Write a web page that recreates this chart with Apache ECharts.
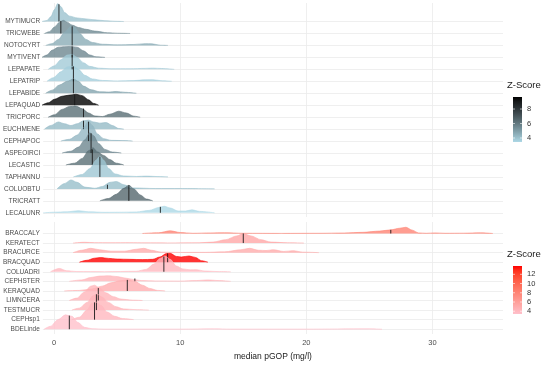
<!DOCTYPE html>
<html><head><meta charset="utf-8">
<script src="https://cdn.jsdelivr.net/npm/echarts@6/dist/echarts.min.js"></script>
<style>html,body{margin:0;padding:0;background:#fff}#c{width:550px;height:366px}</style>
</head><body><div id="c"></div>
<script>
// ---------- top panel (blue scale), listed top to bottom ----------
const blueNames = ['MYTIMUCR','TRICWEBE','NOTOCYRT','MYTIVENT','LEPAPATE','LEPATRIP','LEPABIDE','LEPAQUAD','TRICPORC','EUCHMENE','CEPHAPOC','ASPEOIRCI','LECASTIC','TAPHANNU','COLUOBTU','TRICRATT','LECALUNR'];
const blueZ = [4.0, 5.5, 4.6, 5.6, 3.8, 3.7, 4.8, 9.66, 6.3, 4.2, 4.3, 5.6, 6.3, 3.9, 4.1, 6.5, 3.45];
const blueMedian = [0.35, 0.5, 1.4, 1.4, 1.4, 1.5, 1.5, 1.6, 2.3, 2.3, 2.7, 2.9, 3.0, 3.6, 4.2, 5.9, 8.4];
const blueMedianH = [1.45, 1.05, 1.6, 0.92, 1.25, 1.25, 1.2, 0.9, 0.72, 0.7, 1.62, 1.65, 1.3, 1.7, 0.35, 1.3, 0.5];

const d_MYTIMUCR = [[-1.0,0],[-0.6,0.08],[-0.3,0.4],[0,1.0],[0.25,1.5],[0.5,1.25],[0.8,0.75],[1.2,0.45],[1.8,0.3],[2.5,0.22],[3.2,0.14],[4,0.07],[4.8,0.02],[5.5,0]];
const d_TRICWEBE = [[-0.8,0],[-0.4,0.15],[0,0.55],[0.4,0.95],[0.7,1.1],[1.0,0.95],[1.4,0.7],[1.9,0.5],[2.5,0.35],[3.2,0.2],[4.2,0.06],[5,0.02],[6,0]];
const d_NOTOCYRT = [[-0.7,0],[-0.2,0.15],[0.3,0.5],[0.8,1.1],[1.3,1.6],[1.6,1.5],[2.0,1.0],[2.5,0.5],[3,0.25],[3.8,0.1],[5,0.05],[6.3,0.08],[7.2,0.15],[7.7,0.14],[8.4,0.02],[9,0]];
const d_MYTIVENT = [[-1.0,0],[-0.6,0.2],[-0.2,0.6],[0.3,0.85],[0.8,0.9],[1.3,0.92],[1.8,0.85],[2.3,0.55],[2.8,0.2],[3.3,0.05],[4,0]];
const d_LEPAPATE = [[-0.5,0],[0,0.3],[0.5,0.8],[1.0,1.2],[1.4,1.25],[1.8,1.0],[2.3,0.55],[2.8,0.25],[3.5,0.1],[4.5,0.05],[6,0.05],[7.2,0.08],[7.8,0.1],[8.5,0.07],[9.5,0]];
const d_LEPATRIP = [[-0.6,0],[-0.1,0.3],[0.5,0.8],[1.0,1.2],[1.5,1.25],[1.9,1.0],[2.4,0.5],[3,0.2],[3.8,0.07],[5,0.03],[6.3,0.06],[7.2,0.12],[7.8,0.13],[8.6,0.04],[9.3,0]];
const d_LEPABIDE = [[-0.7,0],[-0.2,0.25],[0.4,0.7],[1.0,1.0],[1.5,1.2],[1.9,1.0],[2.3,0.6],[2.9,0.3],[3.6,0.12],[4.3,0.1],[4.9,0.15],[5.6,0.08],[6.5,0]];
const d_LEPAQUAD = [[-1.0,0],[-0.5,0.2],[0,0.5],[0.6,0.75],[1.2,0.85],[1.7,0.92],[2.2,0.8],[2.7,0.45],[3.1,0.15],[3.5,0]];
const d_TRICPORC = [[-0.5,0],[0,0.2],[0.6,0.65],[1.2,0.9],[1.7,0.93],[2.2,0.7],[2.7,0.35],[3.2,0.1],[3.8,0.05],[4.4,0.25],[5.1,0.5],[5.7,0.35],[6.3,0.08],[6.8,0]];
const d_EUCHMENE = [[-0.8,0],[-0.3,0.3],[0.3,0.6],[0.8,0.45],[1.3,0.3],[1.8,0.45],[2.3,0.7],[2.7,0.75],[3.1,0.6],[3.6,0.5],[4.1,0.55],[4.6,0.3],[5.1,0.05],[5.5,0]];
const d_CEPHAPOC = [[0.5,0],[1.2,0.15],[1.8,0.5],[2.3,1.1],[2.7,1.65],[3.0,1.3],[3.4,0.6],[3.9,0.2],[4.5,0.06],[5.6,0.04],[6.2,0]];
const d_ASPEOIRCI = [[0.6,0],[1.3,0.15],[1.9,0.5],[2.4,1.1],[2.8,1.7],[3.1,1.45],[3.5,0.8],[4.0,0.3],[4.6,0.08],[5.3,0]];
const d_LECASTIC = [[0.9,0],[1.6,0.15],[2.2,0.55],[2.7,1.2],[3.05,1.45],[3.4,1.1],[3.9,0.8],[4.4,0.45],[4.9,0.15],[5.5,0]];
const d_TAPHANNU = [[1.5,0],[2.2,0.2],[2.8,0.7],[3.3,1.4],[3.6,1.75],[3.9,1.4],[4.3,0.7],[4.8,0.25],[5.5,0.08],[6.5,0.04],[7.3,0.07],[8.2,0.03],[9,0]];
const d_COLUOBTU = [[0.2,0],[0.8,0.45],[1.3,0.75],[1.8,0.55],[2.4,0.15],[3.2,0.05],[3.8,0.2],[4.4,0.55],[4.9,0.62],[5.5,0.35],[6.2,0.08],[8,0.03],[10,0.03],[12.7,0]];
const d_TRICRATT = [[3.6,0],[4.3,0.2],[4.9,0.55],[5.5,1.05],[5.9,1.3],[6.3,1.0],[6.8,0.5],[7.3,0.15],[7.8,0]];
const d_LECALUNR = [[-0.9,0],[0,0.05],[1.0,0.08],[1.9,0.18],[2.7,0.08],[4,0.04],[5.5,0.05],[6.5,0.07],[7.5,0.2],[8.3,0.45],[8.7,0.55],[9.2,0.4],[9.8,0.15],[10.4,0.15],[10.9,0.25],[11.5,0.12],[12.7,0]];

// ---------- bottom panel (red scale), listed top to bottom ----------
const redNames = ['BRACCALY','KERATECT','BRACURCE','BRACQUAD','COLUADRI','CEPHSTER','KERAQUAD','LIMNCERA','TESTMUCR','CEPHsp1','BDELinde'];
const redZ = [8.0, 5.3, 5.0, 13.8, 4.0, 4.3, 4.8, 4.3, 4.3, 4.0, 3.4];
const redMedian = [26.7, 15.0, null, 9.0, 8.7, 6.4, 5.8, 3.5, 3.35, 3.2, 1.2];
const redMedianH = [0.38, 1.0, null, 0.92, 1.6, 0.3, 1.15, 1.3, 1.65, 1.8, 1.42];

const d_BRACCALY = [[7.0,0],[8.3,0.08],[9.2,0.28],[10,0.1],[11,0.02],[12.4,0.06],[13.5,0.08],[15,0.02],[18,0.01],[21,0.02],[23,0.05],[24.5,0.12],[25.8,0.25],[26.7,0.38],[27.4,0.55],[27.9,0.65],[28.4,0.35],[28.9,0.06],[29.5,0.02],[30.2,0.06],[31,0.02],[32.5,0.03],[33.8,0.07],[34.8,0]];
const d_KERATECT = [[1.5,0],[2.4,0.08],[3.2,0.04],[4.5,0.03],[6,0.04],[7.2,0.02],[9,0.01],[11.5,0.03],[12.6,0.1],[13.6,0.35],[14.5,0.75],[15.0,1.0],[15.6,0.75],[16.4,0.35],[17.2,0.1],[18.5,0.03],[19.8,0]];
const d_BRACURCE = [[1.5,0],[2.2,0.25],[2.9,0.45],[3.6,0.3],[4.5,0.15],[5.6,0.15],[6.5,0.35],[7.1,0.45],[7.7,0.25],[8.5,0.05],[10,0.02],[12,0.03],[13.5,0.08],[14.8,0.3],[15.5,0.45],[16.2,0.25],[16.8,0.22],[17.4,0.3],[18.2,0.12],[19,0.2],[19.7,0.05],[21,0]];
const d_BRACQUAD = [[2.0,0],[2.6,0.2],[3.2,0.42],[3.7,0.48],[4.3,0.4],[5,0.33],[6,0.3],[7,0.27],[7.8,0.3],[8.4,0.55],[8.9,0.9],[9.2,0.93],[9.7,0.6],[10.1,0.55],[10.7,0.65],[11.2,0.5],[11.7,0.15],[12.2,0]];
const d_COLUADRI = [[-0.3,0],[0.4,0.35],[1.0,0.1],[1.8,0.02],[4,0.01],[6.5,0.05],[7.3,0.25],[7.9,0.8],[8.4,1.4],[8.8,1.65],[9.2,1.3],[9.7,0.6],[10.2,0.3],[10.8,0.2],[11.3,0.22],[11.9,0.08],[13,0.02],[14,0]];
const d_CEPHSTER = [[1.2,0],[2.2,0.15],[2.9,0.4],[3.6,0.55],[4.3,0.58],[5,0.5],[5.6,0.35],[6.3,0.2],[6.9,0.08],[8,0.04],[10,0.03],[11.3,0.08],[12.2,0.15],[13,0.08],[14,0]];
const d_KERAQUAD = [[0.8,0],[2,0.05],[3.0,0.2],[3.8,0.5],[4.5,0.85],[5.2,1.05],[5.8,1.15],[6.4,1.0],[7.0,0.6],[7.6,0.25],[8.2,0.05],[8.8,0]];
const d_LIMNCERA = [[1.2,0],[1.8,0.25],[2.4,0.9],[2.9,1.5],[3.2,1.6],[3.6,1.3],[4.1,0.8],[4.7,0.4],[5.3,0.15],[6.2,0.04],[7,0]];
const d_TESTMUCR = [[1.4,0],[2.0,0.2],[2.6,0.8],[3.1,1.5],[3.4,1.67],[3.8,1.35],[4.3,0.8],[4.9,0.35],[5.5,0.12],[6.5,0.04],[7.5,0]];
const d_CEPHsp1 = [[1.4,0],[2.0,0.25],[2.6,1.0],[3.0,1.7],[3.3,1.85],[3.7,1.5],[4.2,0.8],[4.8,0.35],[5.4,0.12],[6.3,0]];
const d_BDELinde = [[-0.8,0],[-0.3,0.3],[0.3,1.0],[0.9,1.5],[1.4,1.35],[1.9,0.7],[2.4,0.2],[3.0,0.05],[4,0.01],[10,0.01],[12.7,0.04],[14,0.01],[20,0.01],[24.9,0.04],[26,0]];

const xTicks = [0, 10, 20, 30];
const blueLegendTicks = [8, 6, 4];
const redLegendTicks = [12, 10, 8, 6, 4];
const blueRange = [3.45, 9.66];
const redRange = [3.4, 13.8];

const blueDens = [d_MYTIMUCR,d_TRICWEBE,d_NOTOCYRT,d_MYTIVENT,d_LEPAPATE,d_LEPATRIP,d_LEPABIDE,d_LEPAQUAD,d_TRICPORC,d_EUCHMENE,d_CEPHAPOC,d_ASPEOIRCI,d_LECASTIC,d_TAPHANNU,d_COLUOBTU,d_TRICRATT,d_LECALUNR];
const redDens = [d_BRACCALY,d_KERATECT,d_BRACURCE,d_BRACQUAD,d_COLUADRI,d_CEPHSTER,d_KERAQUAD,d_LIMNCERA,d_TESTMUCR,d_CEPHsp1,d_BDELinde];

// ---------- Lab colour interpolation (like ggplot gradients) ----------
function toLab(hex){
  const c=[1,3,5].map(i=>parseInt(hex.slice(i,i+2),16)/255).map(v=>v<=0.04045?v/12.92:Math.pow((v+0.055)/1.055,2.4));
  const X=(0.4124*c[0]+0.3576*c[1]+0.1805*c[2])/0.95047, Y=(0.2126*c[0]+0.7152*c[1]+0.0722*c[2]), Z=(0.0193*c[0]+0.1192*c[1]+0.9505*c[2])/1.08883;
  const g=t=>t>0.008856?Math.cbrt(t):7.787*t+16/116;
  return [116*g(Y)-16, 500*(g(X)-g(Y)), 200*(g(Y)-g(Z))];
}
function fromLab(L,a,b){
  const fy=(L+16)/116, fx=fy+a/500, fz=fy-b/200;
  const gi=t=>t*t*t>0.008856?t*t*t:(t-16/116)/7.787;
  const X=gi(fx)*0.95047, Y=gi(fy), Z=gi(fz)*1.08883;
  const rgb=[3.2406*X-1.5372*Y-0.4986*Z, -0.9689*X+1.8758*Y+0.0415*Z, 0.0557*X-0.2040*Y+1.0570*Z];
  const h=v=>{v=v<=0.0031308?12.92*v:1.055*Math.pow(v,1/2.4)-0.055;return Math.round(Math.max(0,Math.min(1,v))*255);};
  return 'rgb('+rgb.map(h).join(',')+')';
}
function gradColor(lo,hi,range,z){
  const t=Math.max(0,Math.min(1,(z-range[0])/(range[1]-range[0])));
  const A=toLab(lo),B=toLab(hi);
  return fromLab(A[0]+(B[0]-A[0])*t,A[1]+(B[1]-A[1])*t,A[2]+(B[2]-A[2])*t);
}
const blueCol = z=>gradColor('#ADD8E6','#000000',blueRange,z);
const redCol = z=>gradColor('#FFC0CB','#FF0000',redRange,z);

// ---------- series ----------
const series=[];
function addPanel(names,dens,zs,meds,medH,colFn,gi){
  const n=names.length;
  names.forEach((nm,i)=>{
    const base=n-1-i, col=colFn(zs[i]);
    series.push({type:'line',name:nm,xAxisIndex:gi,yAxisIndex:gi,smooth:0.3,smoothMonotone:'x',showSymbol:false,silent:true,
      data:dens[i].map(p=>[p[0],base+p[1]]),
      lineStyle:{color:col,width:0.6},
      areaStyle:{color:col,opacity:0.8,origin:base}});
    if(meds[i]!=null){
      series.push({type:'line',xAxisIndex:gi,yAxisIndex:gi,showSymbol:false,silent:true,
        data:[[meds[i],base],[meds[i],base+medH[i]]],lineStyle:{color:'#1a1a1a',width:0.9}});
    }
  });
}
addPanel(blueNames,blueDens,blueZ,blueMedian,blueMedianH,blueCol,0);
addPanel(redNames,redDens,redZ,redMedian,redMedianH,redCol,1);

const idx=n=>Array.from({length:n},(_,i)=>i);
const FONT='"Liberation Sans", Arial, sans-serif';
function yAx(gi,names,min,max){
  const n=names.length;
  return {type:'value',gridIndex:gi,min:min,max:max,
    axisLine:{show:false},axisTick:{show:false,customValues:idx(n)},
    axisLabel:{customValues:idx(n),formatter:v=>names[n-1-Math.round(v)]||'',fontSize:6.5,color:'#4d4d4d',margin:3,fontFamily:FONT,padding:[0,0,3,0]},
    splitLine:{show:true,lineStyle:{color:'#ebebeb',width:0.8}}};
}
function xAx(gi,labels){
  return {type:'value',gridIndex:gi,min:-0.9,max:35.6,
    axisLine:{show:false},axisTick:{show:false,customValues:xTicks},
    axisLabel:{show:labels,customValues:xTicks,fontSize:7.5,color:'#4d4d4d',margin:5,fontFamily:FONT},
    splitLine:{show:true,lineStyle:{color:'#ebebeb',width:0.8}},
    name:labels?'median pGOP (mg/l)':'',nameLocation:'middle',nameGap:18,
    nameTextStyle:{fontSize:8.5,color:'#1a1a1a',fontFamily:FONT}};
}

// ---------- legends (colour bars) ----------
function legend(top,range,ticks,colFn,barH){
  const barY=top+11, x=513;
  const stops=[];
  for(let k=0;k<=10;k++){stops.push({offset:k/10,color:colFn(range[1]-(range[1]-range[0])*k/10)});}
  const els=[
    {type:'text',left:507,top:top-6,style:{text:'Z-Score',fontSize:9.5,fill:'#1a1a1a',fontFamily:FONT}},
    {type:'rect',shape:{x:x,y:barY,width:9,height:barH},style:{fill:new echarts.graphic.LinearGradient(0,0,0,1,stops)}}
  ];
  ticks.forEach(t=>{
    const y=barY+(range[1]-t)/(range[1]-range[0])*barH;
    els.push({type:'text',x:527,y:y,style:{text:String(t),fontSize:7.5,fill:'#333',fontFamily:FONT,verticalAlign:'middle'}});
    els.push({type:'line',shape:{x1:x,y1:y,x2:x+2,y2:y},style:{stroke:'#fff',lineWidth:0.6}});
    els.push({type:'line',shape:{x1:x+7,y1:y,x2:x+9,y2:y},style:{stroke:'#fff',lineWidth:0.6}});
  });
  return els;
}

const chart=echarts.init(document.getElementById('c'),null,{renderer:'canvas'});
chart.setOption({
  animation:false,
  backgroundColor:'#fff',
  grid:[{left:42,right:47,top:3,height:214},{left:42,right:47,top:222,height:112}],
  xAxis:[xAx(0,false),xAx(1,true)],
  yAxis:[yAx(0,blueNames,-0.35,17.55),yAx(1,redNames,-0.5,11.2)],
  series:series,
  graphic:legend(86,blueRange,blueLegendTicks,blueCol,45).concat(legend(255,redRange,redLegendTicks,redCol,48))
});
</script></body></html>
